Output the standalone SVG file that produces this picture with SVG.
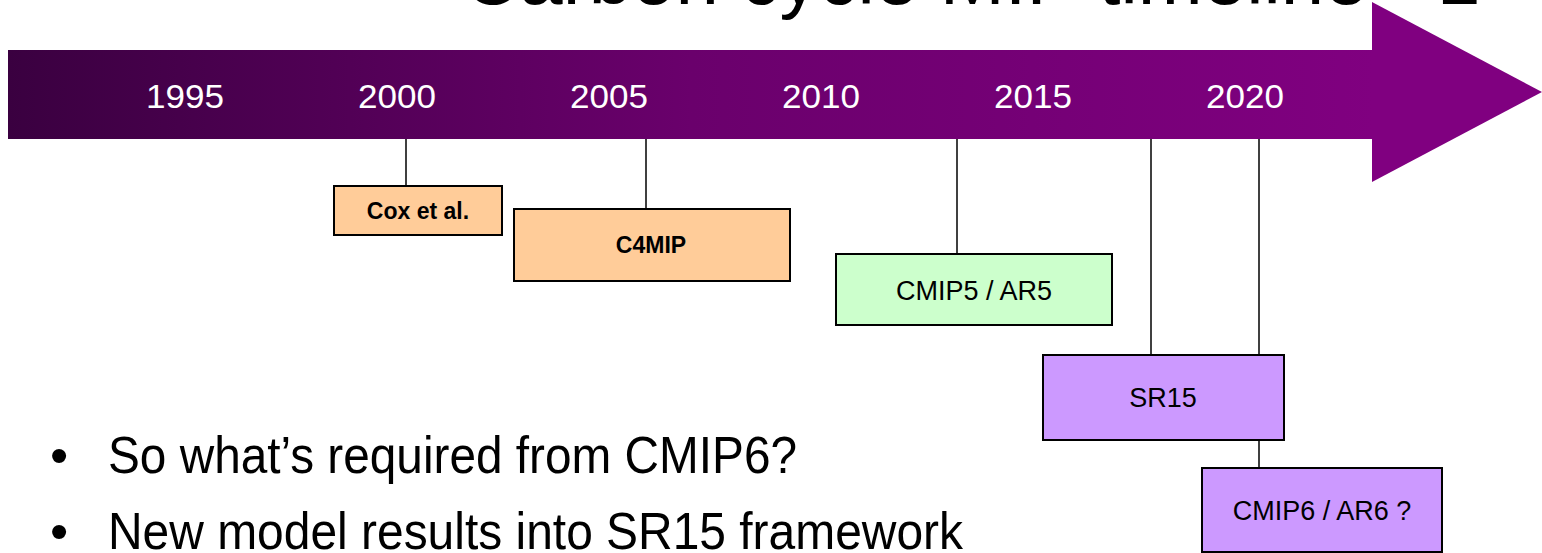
<svg xmlns="http://www.w3.org/2000/svg" width="1542" height="553" viewBox="0 0 1542 553">
<defs>
<linearGradient id="bar" x1="0" y1="0" x2="1" y2="0">
<stop offset="0" stop-color="#3a0040"/>
<stop offset="0.5" stop-color="#6a006c"/>
<stop offset="1" stop-color="#800080"/>
</linearGradient>
</defs>
<style>
text{font-family:"Liberation Sans",Arial,sans-serif}
.yr{fill:#fff;font-size:34px;text-anchor:middle}
.box{stroke:#000;stroke-width:2}
.lbl{font-size:27px;text-anchor:middle;fill:#000}
.b{font-weight:bold;font-size:23px}
.conn line{stroke:#000;stroke-width:1.5}
.bul{font-size:52px;fill:#000}
</style>
<rect width="1542" height="553" fill="#fff"/>
<text x="463" y="4" font-size="78" fill="#000">Carbon cycle MIP timeline - 1</text>
<g id="timeline">
<rect x="8" y="50" width="1366" height="89" fill="url(#bar)"/>
<polygon points="1372,2 1542,92 1372,182" fill="#800080"/>
<text class="yr" x="185" y="108" textLength="78" lengthAdjust="spacingAndGlyphs">1995</text>
<text class="yr" x="397" y="108" textLength="78" lengthAdjust="spacingAndGlyphs">2000</text>
<text class="yr" x="609" y="108" textLength="78" lengthAdjust="spacingAndGlyphs">2005</text>
<text class="yr" x="821" y="108" textLength="78" lengthAdjust="spacingAndGlyphs">2010</text>
<text class="yr" x="1033" y="108" textLength="78" lengthAdjust="spacingAndGlyphs">2015</text>
<text class="yr" x="1245" y="108" textLength="78" lengthAdjust="spacingAndGlyphs">2020</text>
</g>
<g class="conn" id="connectors">
<line x1="406" y1="139" x2="406" y2="186"/>
<line x1="646" y1="139" x2="646" y2="209"/>
<line x1="957" y1="139" x2="957" y2="254"/>
<line x1="1151" y1="139" x2="1151" y2="355"/>
<line x1="1259" y1="139" x2="1259" y2="355"/>
<line x1="1259" y1="440" x2="1259" y2="468"/>
</g>
<g id="cox">
<rect class="box" x="334" y="186" width="168" height="49" fill="#ffcc99"/>
<text class="lbl b" x="418" y="219">Cox et al.</text>
</g>
<g id="c4mip">
<rect class="box" x="514" y="209" width="276" height="72" fill="#ffcc99"/>
<text class="lbl b" x="651" y="253">C4MIP</text>
</g>
<g id="cmip5">
<rect class="box" x="836" y="254" width="276" height="71" fill="#ccffcc"/>
<text class="lbl" x="974" y="300">CMIP5 / AR5</text>
</g>
<g id="sr15">
<rect class="box" x="1043" y="355" width="241" height="85" fill="#cc99ff"/>
<text class="lbl" x="1163" y="407">SR15</text>
</g>
<g id="cmip6">
<rect class="box" x="1202" y="468" width="240" height="84" fill="#cc99ff"/>
<text class="lbl" x="1322" y="520">CMIP6 / AR6 ?</text>
</g>
<g id="bullets">
<text class="bul" x="50" y="473">•</text>
<text class="bul" x="108" y="473" textLength="689" lengthAdjust="spacingAndGlyphs">So what’s required from CMIP6?</text>
<text class="bul" x="50" y="549">•</text>
<text class="bul" x="108" y="549" textLength="855" lengthAdjust="spacingAndGlyphs">New model results into SR15 framework</text>
</g>
</svg>
